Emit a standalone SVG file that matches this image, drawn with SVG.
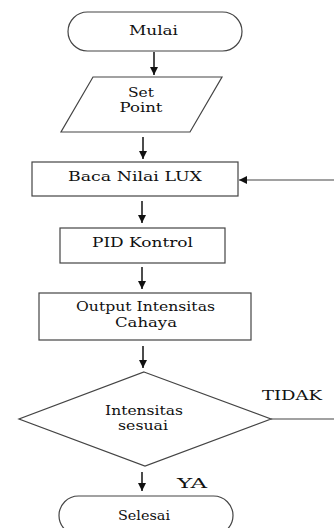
<svg xmlns="http://www.w3.org/2000/svg" width="334" height="528" viewBox="0 0 334 528">
<style>
.s{fill:#fff;stroke:#444;stroke-width:1.2}
.t{font-family:'DejaVu Serif','Liberation Serif',serif;font-size:13.5px;fill:#111;text-anchor:middle}
.c{stroke:#111;stroke-width:1.5;fill:none}
.n{stroke:#444;stroke-width:1.1;fill:none}
</style>
<defs>
<marker id="ah" viewBox="0 0 10 10" refX="10" refY="5" markerWidth="9" markerHeight="8" markerUnits="userSpaceOnUse" orient="auto">
<path d="M0,0 L10,5 L0,10 z" fill="#111"/>
</marker>
</defs>
<rect width="334" height="528" fill="#fff"/>
<g id="connectors">
<line class="c" x1="154" y1="52" x2="154" y2="75" marker-end="url(#ah)"/>
<line class="c" x1="143" y1="137" x2="143" y2="159" marker-end="url(#ah)"/>
<line class="c" x1="142" y1="201" x2="142" y2="223" marker-end="url(#ah)"/>
<line class="c" x1="142" y1="267" x2="142" y2="289" marker-end="url(#ah)"/>
<line class="c" x1="143" y1="346" x2="143" y2="368" marker-end="url(#ah)"/>
<line class="c" x1="142" y1="472" x2="142" y2="491" marker-end="url(#ah)"/>
<line class="n" x1="334" y1="180" x2="239" y2="180" marker-end="url(#ah)"/>
<line class="n" x1="271" y1="419" x2="334" y2="419"/>
<text class="t" x="292" y="400" textLength="60" lengthAdjust="spacingAndGlyphs" font-size="12">TIDAK</text>
<text class="t" x="192" y="488" textLength="30" lengthAdjust="spacingAndGlyphs" font-size="12">YA</text>
</g>
<g id="mulai">
<rect class="s" x="68" y="12" width="174" height="39" rx="19.5"/>
<text class="t" x="153.5" y="35" textLength="49" lengthAdjust="spacingAndGlyphs">Mulai</text>
</g>
<g id="setpoint">
<polygon class="s" points="93,77 222,77 190,132 61,132"/>
<text class="t" x="141" y="97" textLength="26" lengthAdjust="spacingAndGlyphs">Set</text>
<text class="t" x="141" y="112" textLength="43" lengthAdjust="spacingAndGlyphs">Point</text>
</g>
<g id="baca">
<rect class="s" x="32" y="162" width="206" height="34"/>
<text class="t" x="135" y="181" textLength="134" lengthAdjust="spacingAndGlyphs">Baca Nilai LUX</text>
</g>
<g id="pid">
<rect class="s" x="60" y="228" width="165" height="35"/>
<text class="t" x="142.5" y="247" textLength="101" lengthAdjust="spacingAndGlyphs">PID Kontrol</text>
</g>
<g id="output">
<rect class="s" x="39" y="293" width="212" height="47"/>
<text class="t" x="145.5" y="311" textLength="139" lengthAdjust="spacingAndGlyphs">Output Intensitas</text>
<text class="t" x="146" y="327" textLength="62" lengthAdjust="spacingAndGlyphs">Cahaya</text>
</g>
<g id="decision">
<polygon class="s" points="144,372 271,419 145,466 19,419"/>
<text class="t" x="144" y="415" textLength="78" lengthAdjust="spacingAndGlyphs">Intensitas</text>
<text class="t" x="143" y="430" textLength="50" lengthAdjust="spacingAndGlyphs">sesuai</text>
</g>
<g id="selesai">
<rect class="s" x="59" y="496" width="174" height="39" rx="19.5"/>
<text class="t" x="144" y="520" textLength="52" lengthAdjust="spacingAndGlyphs">Selesai</text>
</g>
</svg>
